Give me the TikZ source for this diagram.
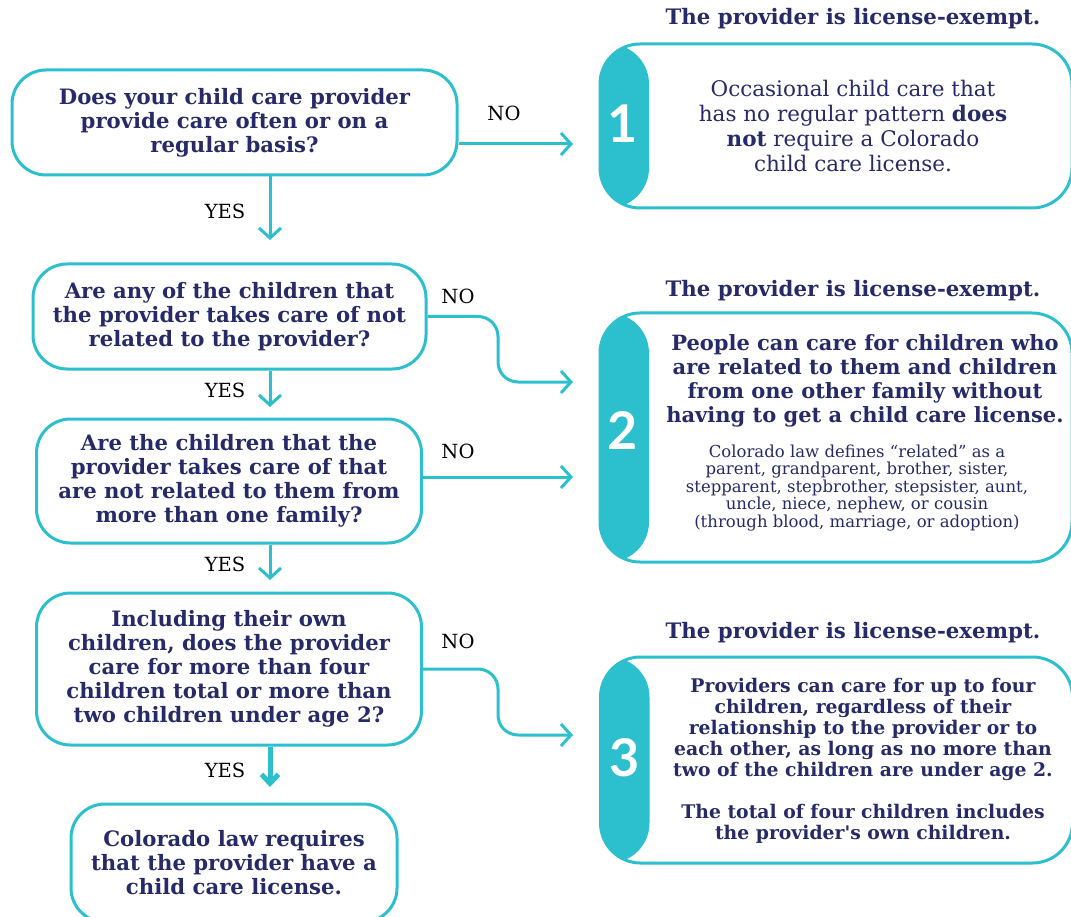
\documentclass[tikz,border=0pt]{standalone}
\usepackage{fontspec}
\setmainfont{DejaVu Serif}[Ligatures=TeXOff]
\newfontfamily\numfont{Lato}
\usetikzlibrary{arrows.meta}
\definecolor{tealc}{HTML}{2CBFCE}
\definecolor{navy}{HTML}{262A68}
\begin{document}
\begin{tikzpicture}[x=1pt,y=-1pt,
  qbox/.style={draw=tealc, line width=3pt, rounded corners=34pt, align=center, text=navy, inner sep=0pt},
  rbox/.style={draw=tealc, line width=3pt, rounded corners=40pt, inner sep=0pt,
     path picture={\fill[tealc] (path picture bounding box.north west) rectangle ([xshift=49pt]path picture bounding box.south west);}},
  qfont/.style={font=\bfseries\fontsize{21.2}{24}\selectfont},
  rtext/.style={align=center, text=navy, inner sep=0pt},
  head/.style={text=navy, font=\bfseries\fontsize{21.3}{24}\selectfont, inner sep=0pt},
  num/.style={text=white, font=\numfont\bfseries\fontsize{52}{52}\selectfont, inner sep=0pt},
  lbl/.style={text=black, font=\fontsize{19.5}{22}\selectfont, inner sep=0pt},
  conn/.style={draw=tealc, line width=3pt, -{Straight Barb[length=10pt,width=22pt]}},
  thick conn/.style={draw=tealc, line width=5pt, -{Straight Barb[length=9pt,width=17pt]}}
]
\useasboundingbox (0,0) rectangle (1071,917);
\clip (0,0) rectangle (1071,917);

% question boxes
\node[qbox, qfont, minimum width=445, minimum height=105] (q1) at (234.5,122.5)
  {Does your child care provider\\provide care often or on a\\regular basis?};
\node[qbox, qfont, minimum width=393, minimum height=105] (q2) at (229.5,316.5)
  {Are any of the children that\\the provider takes care of not\\related to the provider?};
\node[qbox, qfont, minimum width=385, minimum height=124] (q3) at (229,481)
  {Are the children that the\\provider takes care of that\\are not related to them from\\more than one family?};
\node[qbox, qfont, minimum width=385, minimum height=152] (q4) at (229,669)
  {Including their own\\children, does the provider\\care for more than four\\children total or more than\\two children under age 2?};
\node[qbox, qfont, minimum width=326, minimum height=118] (q5) at (234,863)
  {Colorado law requires\\that the provider have a\\child care license.};

% right boxes
\node[rbox, minimum width=472, minimum height=164] (r1) at (836,126) {};
\node[rbox, minimum width=472, minimum height=249] (r2) at (836,437.5) {};
\node[rbox, minimum width=472, minimum height=206] (r3) at (836.5,760) {};

\node[head] (h1) at (853,19) {The provider is license-exempt.};
\node[head] (h2) at (853,291) {The provider is license-exempt.};
\node[head] (h3) at (853,633) {The provider is license-exempt.};

\node[num] (n1) at (623,124) {1};
\node[num] (n2) at (623,430) {2};
\node[num] (n3) at (625,758) {3};

\node[rtext, font=\fontsize{21.5}{25}\selectfont] (t1) at (853,125.5)
  {Occasional child care that\\has no regular pattern \textbf{does}\\\textbf{not} require a Colorado\\child care license.};
\node[rtext, font=\bfseries\fontsize{21}{24}\selectfont] (t2a) at (865,381)
  {People can care for children who\\are related to them and children\\from one other family without\\having to get a child care license.};
\node[rtext, font=\fontsize{16.5}{17.5}\selectfont] (t2b) at (857,488)
  {Colorado law defines “related” as a\\parent, grandparent, brother, sister,\\stepparent, stepbrother, stepsister, aunt,\\uncle, niece, nephew, or cousin\\(through blood, marriage, or adoption)};
\node[rtext, font=\bfseries\fontsize{18.8}{21}\selectfont] (t3) at (863,760.5)
  {Providers can care for up to four\\children, regardless of their\\relationship to the provider or to\\each other, as long as no more than\\two of the children are under age 2.\\[21pt]The total of four children includes\\the provider's own children.};

% connector end points
\coordinate (a1) at (573,144);
\coordinate (a2) at (573,382);
\coordinate (a3) at (573,477);
\coordinate (a4) at (573,735);
\coordinate (y1) at (270,240);
\coordinate (y2) at (270,407);
\coordinate (y3) at (270,580);
\coordinate (y4) at (270,787);

\draw[conn] (q1.east |- a1) -- (a1);
\draw[conn, rounded corners=20pt] (q2.east) -| (498,382) -- (a2);
\draw[conn] (q3.east |- a3) -- (a3);
\draw[conn, rounded corners=20pt] (q4.east) -| (498,735) -- (a4);

\draw[conn] (q1.south -| y1) -- (y1);
\draw[conn] (q2.south -| y2) -- (y2);
\draw[conn] (q3.south -| y3) -- (y3);
\draw[thick conn] (q4.south -| y4) -- (y4);

% labels
\node[lbl] (no1) at (504,113) {NO};
\node[lbl] (no2) at (458,296) {NO};
\node[lbl] (no3) at (458,451) {NO};
\node[lbl] (no4) at (458,641) {NO};
\node[lbl] (ye1) at (225,211) {YES};
\node[lbl] (ye2) at (225,390) {YES};
\node[lbl] (ye3) at (225,564) {YES};
\node[lbl] (ye4) at (225,770) {YES};
\end{tikzpicture}
\end{document}
